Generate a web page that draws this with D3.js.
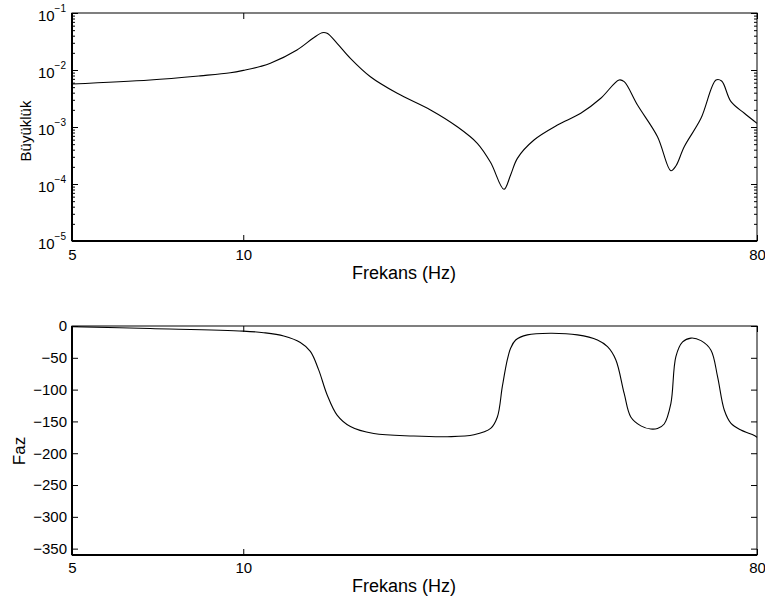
<!DOCTYPE html>
<html>
<head>
<meta charset="utf-8">
<script src="https://cdn.jsdelivr.net/npm/d3@7"></script>
<style>
  body { margin: 0; background: #fff; }
  svg { display: block; font-family: "Liberation Sans", Arial, sans-serif; }
</style>
</head>
<body>
<div id="chart"></div>
<script>
// magnitude response
const freqMag = [5, 6.86, 8.40, 9.49, 10.08, 10.71, 11.16, 12.43, 13.28, 13.76, 14.04, 14.62, 15.43, 16.73,
  18.65, 21.34, 23.78, 25.79, 27.22, 28.72, 29.51, 30.33, 32.44, 35.67, 39.20, 42.51, 45.78,
  46.73, 49.32, 53.48, 56.45, 57.61, 59.59, 63.77, 67.76, 69.33, 72.01, 76.01, 80];
const magVals = [5.68e-3, 6.68e-3, 7.9e-3, 8.93e-3, 1.0e-2, 1.15e-2, 1.31e-2, 2.24e-2, 3.64e-2, 4.51e-2, 4.41e-2,
  2.94e-2, 1.60e-2, 7.62e-3, 3.90e-3, 1.99e-3, 1.01e-3, 5.18e-4, 2.38e-4, 8.07e-5, 1.44e-4,
  2.82e-4, 5.91e-4, 1.08e-3, 1.74e-3, 3.19e-3, 6.68e-3, 6.24e-3, 2.43e-3, 6.76e-4, 1.71e-4,
  2.07e-4, 4.51e-4, 1.42e-3, 6.68e-3, 6.41e-3, 2.78e-3, 1.74e-3, 1.16e-3];

// phase response (degrees)
const freqPhase = [5, 6.86, 10.0, 10.86, 11.78, 12.60, 13.12, 13.57, 14.04, 14.62, 15.43, 16.96,
  19.94, 22.84, 25.44, 27.22, 27.97, 28.54, 29.12, 29.51, 30.12, 31.58, 34.71, 38.68, 41.94,
  43.68, 45.17, 46.73, 48.0, 50.0, 52.06, 53.48, 54.95, 56.45, 57.61, 59.2, 61.22, 63.77,
  66.40, 68.21, 70.07, 72.01, 74.96, 79.14, 80];
const phaseVals = [-1, -4, -8, -10.5, -15.7, -26, -40, -69, -108, -140, -158, -169,
  -173, -174, -171, -161, -143, -95, -53, -35, -22, -14, -11.5, -14, -22,
  -32.5, -53, -106, -143, -157, -162, -161, -154, -122, -48, -25, -19, -23,
  -38, -80, -132, -153, -163.5, -172, -175];

const xTicks = [5, 10, 80];
const magExp = [-5, -4, -3, -2, -1];
const phaseTicks = [0, -50, -100, -150, -200, -250, -300, -350];

const W = 765, H = 605;
const left = 72, right = 757;
const top1 = 13, bot1 = 241;
const top2 = 326, bot2 = 555;

const svg = d3.select("#chart").append("svg")
  .attr("width", W).attr("height", H);

const x = d3.scaleLog().domain([5, 80]).range([left, right]);
const y1 = d3.scaleLog().domain([1e-5, 1e-1]).range([bot1, top1]);
const y2 = d3.scaleLinear().domain([-360, 0]).range([bot2, top2]);

// minor ticks for the log axis
const minor = [];
magExp.slice(0, -1).forEach(e => {
  for (let k = 2; k <= 9; k++) minor.push(k * Math.pow(10, e));
});

function frame(yTop, yBot) {
  svg.append("rect")
    .attr("x", left).attr("y", yTop)
    .attr("width", right - left).attr("height", yBot - yTop)
    .attr("fill", "none").attr("stroke", "#000").attr("stroke-width", 1);
  svg.append("line").attr("x1", left).attr("x2", left).attr("y1", yTop).attr("y2", yBot)
    .attr("stroke", "#000").attr("stroke-width", 2);
  svg.append("line").attr("x1", left).attr("x2", right).attr("y1", yBot).attr("y2", yBot)
    .attr("stroke", "#000").attr("stroke-width", 2);
}

function tickLines(g) {
  g.select(".domain").remove();
  g.selectAll(".tick line").attr("stroke", "#000");
}

const curve = d3.curveCatmullRom.alpha(0.5);

// ---------- top: magnitude ----------
frame(top1, bot1);

svg.append("g").attr("transform", `translate(0,${bot1})`)
  .call(d3.axisBottom(x).tickValues(xTicks).tickSize(-6).tickPadding(8).tickFormat(d3.format("d")))
  .call(tickLines)
  .selectAll("text").attr("font-size", 15).attr("fill", "#000")
  .attr("font-family", "Liberation Sans, Arial, sans-serif");

svg.append("g").attr("transform", `translate(0,${top1})`)
  .call(d3.axisTop(x).tickValues(xTicks).tickSize(-6).tickFormat(""))
  .call(tickLines);

const majorMag = magExp.map(e => Math.pow(10, e));
svg.append("g").attr("transform", `translate(${left},0)`)
  .call(d3.axisLeft(y1).tickValues(majorMag).tickSize(-6).tickFormat(""))
  .call(tickLines);
svg.append("g").attr("transform", `translate(${left},0)`)
  .call(d3.axisLeft(y1).tickValues(minor).tickSize(-3).tickFormat(""))
  .call(tickLines);
svg.append("g").attr("transform", `translate(${right},0)`)
  .call(d3.axisRight(y1).tickValues(majorMag).tickSize(-6).tickFormat(""))
  .call(tickLines);
svg.append("g").attr("transform", `translate(${right},0)`)
  .call(d3.axisRight(y1).tickValues(minor).tickSize(-3).tickFormat(""))
  .call(tickLines);

// 10^n labels
const magLabels = svg.append("g").selectAll("text")
  .data(magExp).enter().append("text")
  .attr("x", 66)
  .attr("y", d => y1(Math.pow(10, d)) + 7.5)
  .attr("text-anchor", "end")
  .attr("font-size", 15)
  .attr("fill", "#000");
magLabels.append("tspan").text("10");
magLabels.append("tspan").attr("font-size", 10).attr("dy", -9)
  .text(d => "\u2212" + Math.abs(d));

svg.append("path")
  .datum(freqMag.map((f, i) => [f, magVals[i]]))
  .attr("fill", "none").attr("stroke", "#000").attr("stroke-width", 1.1)
  .attr("d", d3.line().x(d => x(d[0])).y(d => y1(d[1])).curve(curve));

svg.append("text")
  .attr("transform", `translate(31,131) rotate(-90)`)
  .attr("text-anchor", "middle").attr("font-size", 15)
  .text("Büyüklük");

svg.append("text")
  .attr("x", 404).attr("y", 279)
  .attr("text-anchor", "middle").attr("font-size", 18)
  .text("Frekans (Hz)");

// ---------- bottom: phase ----------
frame(top2, bot2);

svg.append("g").attr("transform", `translate(0,${bot2})`)
  .call(d3.axisBottom(x).tickValues(xTicks).tickSize(-6).tickPadding(7).tickFormat(d3.format("d")))
  .call(tickLines)
  .selectAll("text").attr("font-size", 15).attr("fill", "#000")
  .attr("font-family", "Liberation Sans, Arial, sans-serif");

svg.append("g").attr("transform", `translate(0,${top2})`)
  .call(d3.axisTop(x).tickValues(xTicks).tickSize(-6).tickFormat(""))
  .call(tickLines);

svg.append("g").attr("transform", `translate(${left},0)`)
  .call(d3.axisLeft(y2).tickValues(phaseTicks).tickSize(-6).tickPadding(5))
  .call(tickLines)
  .selectAll("text").attr("font-size", 15).attr("fill", "#000")
  .attr("font-family", "Liberation Sans, Arial, sans-serif");

svg.append("g").attr("transform", `translate(${right},0)`)
  .call(d3.axisRight(y2).tickValues(phaseTicks).tickSize(-6).tickFormat(""))
  .call(tickLines);

svg.append("path")
  .datum(freqPhase.map((f, i) => [f, phaseVals[i]]))
  .attr("fill", "none").attr("stroke", "#000").attr("stroke-width", 1.1)
  .attr("d", d3.line().x(d => x(d[0])).y(d => y2(d[1])).curve(curve));

svg.append("text")
  .attr("transform", `translate(25,451) rotate(-90)`)
  .attr("text-anchor", "middle").attr("font-size", 17)
  .text("Faz");

svg.append("text")
  .attr("x", 404).attr("y", 592)
  .attr("text-anchor", "middle").attr("font-size", 18)
  .text("Frekans (Hz)");
</script>
</body>
</html>
